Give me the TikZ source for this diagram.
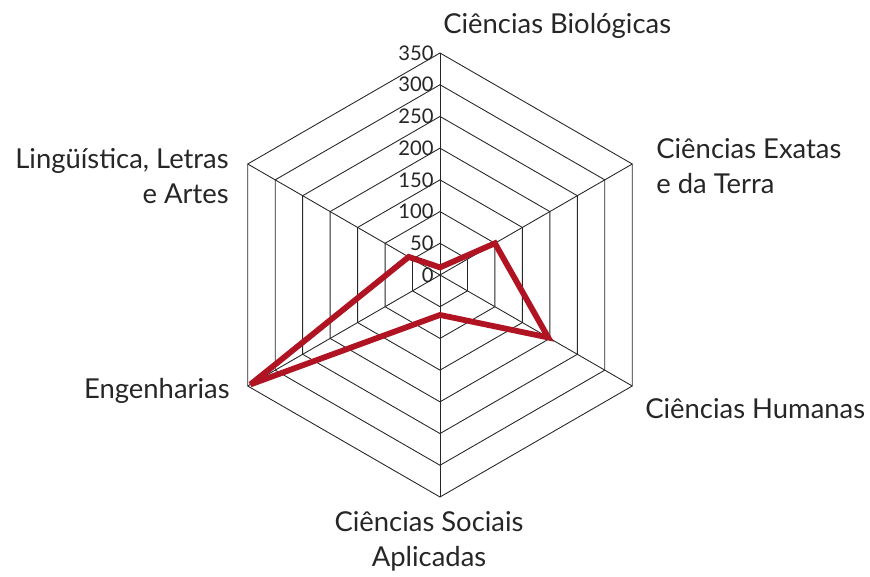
\documentclass[tikz,border=0pt]{standalone}
\usepackage{fontspec}
\setmainfont{Lato}
\definecolor{datared}{RGB}{176,20,34}

\begin{document}
\begin{tikzpicture}[x=0.02cm,y=0.02cm,
grid/.style={black!85,line width=0.5pt},
data/.style={draw=datared,line width=3.3pt,line join=miter,miter limit=4},
area/.style={font=\fontsize{15.6}{19.8}\selectfont,text=black!85,inner sep=0pt},
tick/.style={font=\fontsize{11.5}{13}\selectfont,text=black!85,anchor=east,inner sep=0pt}]
\useasboundingbox (-440,-301) rectangle (430,275);
% hexagon rings (one per 50) and the six spokes
\foreach \k [evaluate=\k as \r using \k*222/7] in {1,...,7}
  \draw[grid] (90:\r) -- (30:\r) -- (-30:\r) -- (-90:\r) -- (-150:\r) -- (150:\r) -- cycle;
\foreach \a in {90,30,-30,-90,-150,150}
  \draw[grid] (0,0) -- (\a:222);
% scale on the vertical axis
\foreach \v [count=\i from 0] in {0,50,...,350}
  \node[tick] (t\v) at (-6,\i*222/7) {\v};
% data polygon
\draw[data] (90:12*0.6343) -- (30:100*0.6343) -- (-30:197*0.6343)
  -- (-90:63*0.6343) -- (-150:345*0.6343) -- (150:57*0.6343) -- cycle;
% area names (base = last line)
\node[area,anchor=base west] (bio) at (3,242) {Ciências Biológicas};
\node[area,anchor=base west,align=left] (exa) at (216,82) {Ciências Exatas\\e da Terra};
\node[area,anchor=base west] (hum) at (205,-143) {Ciências Humanas};
\node[area,anchor=base,align=center] (soc) at (-11,-291) {Ciências Sociais\\Aplicadas};
\node[area,anchor=base east] (eng) at (-210,-123) {Engenharias};
\node[area,anchor=base east,align=right] (lin) at (-211,72) {Lingüística, Letras\\e Artes};
\end{tikzpicture}
\end{document}
